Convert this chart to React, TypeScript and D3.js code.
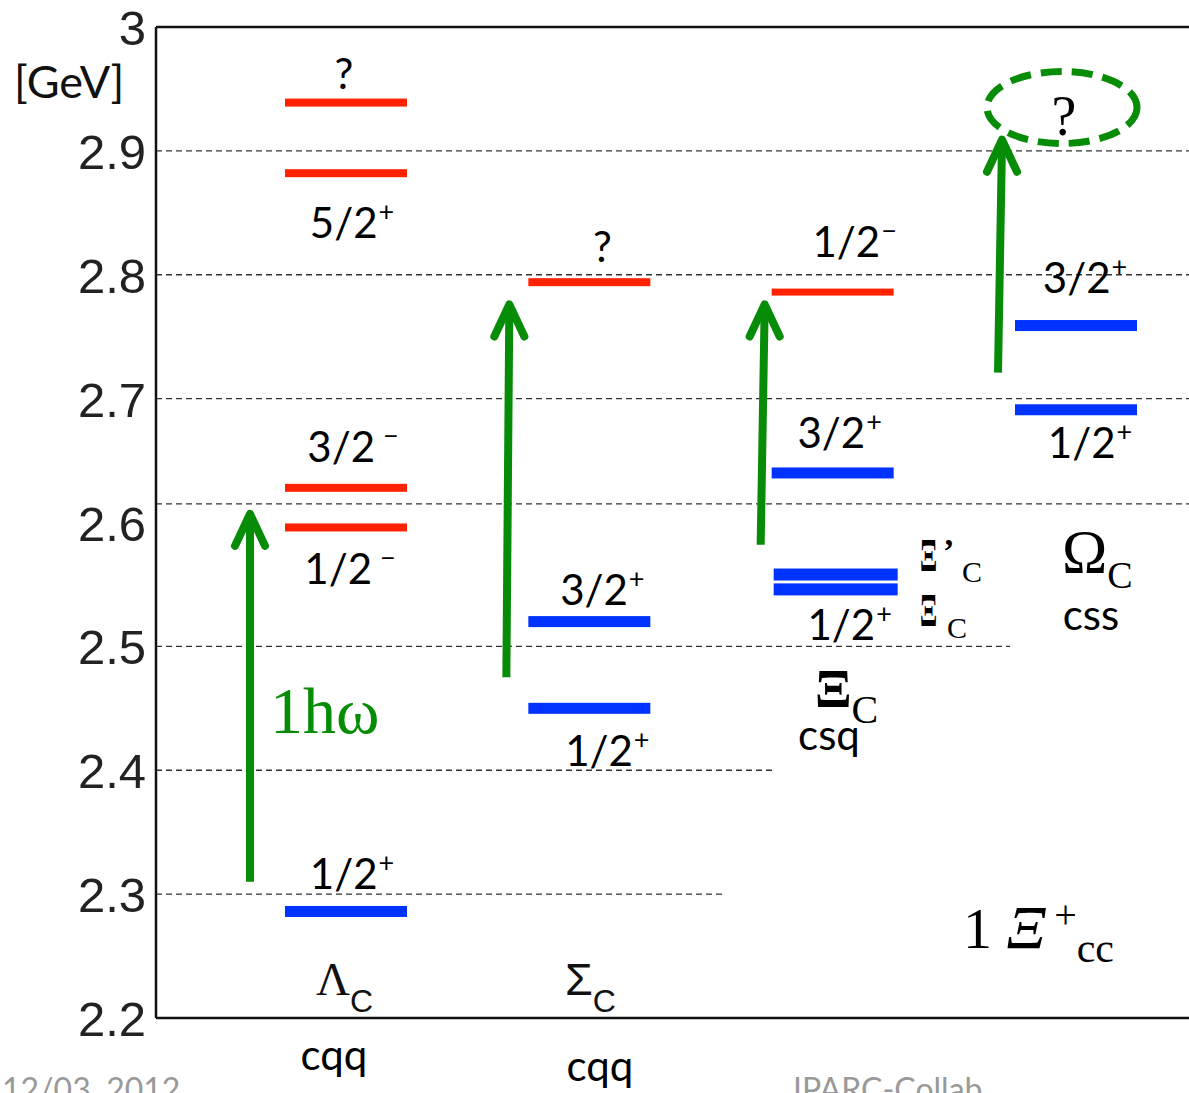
import React from "react";
import * as d3 from "d3";

// ---------- data ----------
const CATEGORIES = ["Λc", "Σc", "Ξc", "Ωc"];
const QUARKS = ["cqq", "cqq", "csq", "css"];
const Y_TICKS = [3, 2.9, 2.8, 2.7, 2.6, 2.5, 2.4, 2.3, 2.2];
const GRID_VALUES = [2.9, 2.8, 2.7, 2.615, 2.5, 2.4, 2.3];

// levels: column, mass (GeV), colour kind, spin label, parity
const LEVEL_COL = [0, 0, 0, 0, 0, 1, 1, 1, 2, 2, 2, 2, 3, 3];
const LEVEL_MASS = [2.939, 2.882, 2.628, 2.596, 2.286, 2.794, 2.52, 2.45, 2.786, 2.64, 2.558, 2.546, 2.759, 2.691];
const LEVEL_KIND = ["red", "red", "red", "red", "blue", "red", "blue", "blue", "red", "blue", "blue", "blue", "blue", "blue"];
const LEVEL_SPIN = ["?", "5/2", "3/2", "1/2", "1/2", "?", "3/2", "1/2", "1/2", "3/2", "", "1/2", "3/2", "1/2"];
const LEVEL_PARITY = ["", "+", "−", "−", "+", "", "+", "+", "−", "+", "", "+", "+", "+"];

// excitation arrows: column, from mass, to mass
const ARROW_COL = [0, 1, 2, 3];
const ARROW_FROM = [2.31, 2.475, 2.582, 2.721];
const ARROW_TO = [2.607, 2.776, 2.776, 2.909];

// ---------- layout ----------
const W = 1189;
const H = 1093;
const LEFT = 156;
const RED = "#ff2200";
const BLUE = "#0033ff";
const GREEN = "#078c07";
const SANS = "Lato, 'Open Sans', sans-serif";
const HELV = "'Liberation Sans', Arial, sans-serif";
const SERIF = "'Liberation Serif', 'Times New Roman', serif";

const GRID_END = [W, W, W, W, 1010, 775, 725];
// label offsets [dx, dy] relative to column centre / bar y
const LABEL_OFF: [number, number][] = [
  [-2, -14], [6, 65], [7, -26], [4, 57], [6, -22],
  [13, -20], [13, -17], [18, 58],
  [22, -35], [7, -25], [0, 0], [17, 51],
  [9, -33], [14, 48],
];
const ARROW_DX = [-96, -83, -72, -78];
const ARROW_TILT = [0, 3, 4, 4];

export default function App() {
  const y = d3.scaleLinear().domain([2.2, 3]).range([1018, 27]);
  const x = d3.scalePoint<string>().domain(CATEGORIES).range([346, 1076]);
  const half = 61;

  const fmt = (v: number) => (v === 3 ? "3" : d3.format(".1f")(v));

  return (
    <svg
      width={W}
      height={H}
      style={{ position: "absolute", left: 0, top: 0, background: "#fff" }}
    >
      <rect x={0} y={0} width={W} height={H} fill="#fff" />
      {/* grid */}
      {GRID_VALUES.map((v, i) => (
        <line
          key={"g" + i}
          x1={LEFT}
          x2={GRID_END[i]}
          y1={y(v)}
          y2={y(v)}
          stroke="#333"
          strokeWidth={1.3}
          strokeDasharray="6,4"
        />
      ))}
      {/* axes frame */}
      <line x1={LEFT} x2={LEFT} y1={y(3)} y2={y(2.2)} stroke="#111" strokeWidth={2.5} />
      <line x1={LEFT} x2={W} y1={y(3)} y2={y(3)} stroke="#111" strokeWidth={2.5} />
      <line x1={LEFT} x2={W} y1={y(2.2)} y2={y(2.2)} stroke="#111" strokeWidth={2.5} />
      {/* ticks */}
      {Y_TICKS.map((v) => (
        <text
          key={"t" + v}
          x={146}
          y={y(v) + 18}
          textAnchor="end"
          fontFamily={HELV}
          fontSize={49}
          fill="#222"
        >
          {fmt(v)}
        </text>
      ))}
      <text x={14} y={98} fontFamily={SANS} fontSize={45} fill="#111">
        [GeV]
      </text>

      {/* levels */}
      {LEVEL_MASS.map((m, i) => {
        const cx = x(CATEGORIES[LEVEL_COL[i]])!;
        const isDouble = LEVEL_COL[i] === 2 && (i === 10 || i === 11);
        const th = LEVEL_KIND[i] === "red" ? (LEVEL_COL[i] === 2 ? 7 : 8) : isDouble ? 12 : 11;
        const x0 = isDouble ? cx - half + 2 : cx - half;
        const w = isDouble ? 2 * half + 2 : 2 * half;
        return (
          <rect
            key={"l" + i}
            x={x0}
            y={y(m) - th / 2}
            width={w}
            height={th}
            fill={LEVEL_KIND[i] === "red" ? RED : BLUE}
          />
        );
      })}
      {/* level labels */}
      {LEVEL_MASS.map((m, i) => {
        if (!LEVEL_SPIN[i]) return null;
        const cx = x(CATEGORIES[LEVEL_COL[i]])!;
        const [dx, dy] = LABEL_OFF[i];
        const gap = LEVEL_COL[i] === 0 && LEVEL_PARITY[i] === "−";
        return (
          <text
            key={"lt" + i}
            x={cx + dx}
            y={y(m) + dy}
            textAnchor="middle"
            fontFamily={SANS}
            fontSize={42}
            fill="#000"
          >
            {LEVEL_SPIN[i]}
            {LEVEL_PARITY[i] && (
              <tspan fontSize={27} dy={-17} dx={gap ? 8 : 1}>
                {LEVEL_PARITY[i]}
              </tspan>
            )}
          </text>
        );
      })}

      {/* arrows */}
      {ARROW_COL.map((c, i) => {
        const cx = x(CATEGORIES[c])! + ARROW_DX[i];
        const xb = cx;
        const xt = cx + ARROW_TILT[i];
        const yb = y(ARROW_FROM[i]);
        const yt = y(ARROW_TO[i]);
        return (
          <g key={"a" + i} stroke={GREEN} strokeWidth={8} fill="none" strokeLinecap="round" strokeLinejoin="round">
            <line x1={xb} y1={yb} x2={xt} y2={yt + 3} strokeLinecap="butt" />
            <polyline points={`${xt - 15},${yt + 32} ${xt},${yt} ${xt + 15},${yt + 32}`} />
          </g>
        );
      })}
      <text x={270} y={733} fontFamily={SERIF} fontSize={66} fill={GREEN}>
        1hω
      </text>

      {/* dashed ellipse with ? */}
      <ellipse
        cx={x("Ωc")! - 14}
        cy={y(2.935)}
        rx={75}
        ry={36}
        fill="none"
        stroke={GREEN}
        strokeWidth={7}
        strokeDasharray="21,10"
      />
      <text x={x("Ωc")! - 12} y={y(2.935) + 27} textAnchor="middle" fontFamily={SERIF} fontSize={56} fill="#000">
        ?
      </text>

      {/* baryon names */}
      <text x={316} y={995} fontFamily={SERIF} fontSize={47} fill="#111">
        Λ
        <tspan fontFamily={HELV} fontSize={32} dy={17}>C</tspan>
      </text>
      <text x={565} y={995} fontFamily={HELV} fontSize={45} fill="#111">
        Σ
        <tspan fontSize={32} dy={17}>C</tspan>
      </text>
      <text x={815} y={707} fontFamily={SERIF} fontWeight="bold" fontSize={54} fill="#000">
        Ξ
        <tspan fontWeight="normal" fontSize={40} dy={16}>C</tspan>
      </text>
      <text x={1062} y={572} fontFamily={SERIF} fontSize={61} fill="#000">
        Ω
        <tspan fontSize={38} dy={16}>C</tspan>
      </text>
      {/* Ξ'c and Ξc small */}
      <g transform="translate(920,571) scale(0.55,1)">
        <text x={0} y={0} fontFamily={SERIF} fontWeight="bold" fontSize={46} fill="#000">Ξ</text>
      </g>
      <text x={943} y={562} fontFamily={SERIF} fontWeight="bold" fontSize={34} fill="#000">
        ’
      </text>
      <text x={962} y={582} fontFamily={SERIF} fontSize={30} fill="#000">
        C
      </text>
      <g transform="translate(920,626) scale(0.55,1)">
        <text x={0} y={0} fontFamily={SERIF} fontWeight="bold" fontSize={46} fill="#000">Ξ</text>
      </g>
      <text x={947} y={638} fontFamily={SERIF} fontSize={30} fill="#000">
        C
      </text>

      {/* quark contents */}
      <text x={334} y={1070} textAnchor="middle" fontFamily={SANS} fontSize={42} fill="#000">{QUARKS[0]}</text>
      <text x={600} y={1081} textAnchor="middle" fontFamily={SANS} fontSize={42} fill="#000">{QUARKS[1]}</text>
      <text x={829} y={750} textAnchor="middle" fontFamily={SANS} fontSize={42} fill="#000">{QUARKS[2]}</text>
      <text x={1091} y={630} textAnchor="middle" fontFamily={SANS} fontSize={42} fill="#000">{QUARKS[3]}</text>

      {/* Xi_cc annotation */}
      <text x={963} y={948} fontFamily={SERIF} fontSize={58} fill="#000">
        1{" "}
        <tspan fontStyle="italic" fontSize={62}>Ξ</tspan>
        <tspan fontSize={40} dy={-20} dx={8}>+</tspan>
        <tspan fontSize={42} dy={34}>cc</tspan>
      </text>

      {/* footer */}
      <text x={2} y={1101} fontFamily={SANS} fontSize={32} fill="#999">12/03, 2012</text>
      <text x={793} y={1101} fontFamily={SANS} fontSize={32} fill="#999">IPARC-Collab</text>
    </svg>
  );
}
